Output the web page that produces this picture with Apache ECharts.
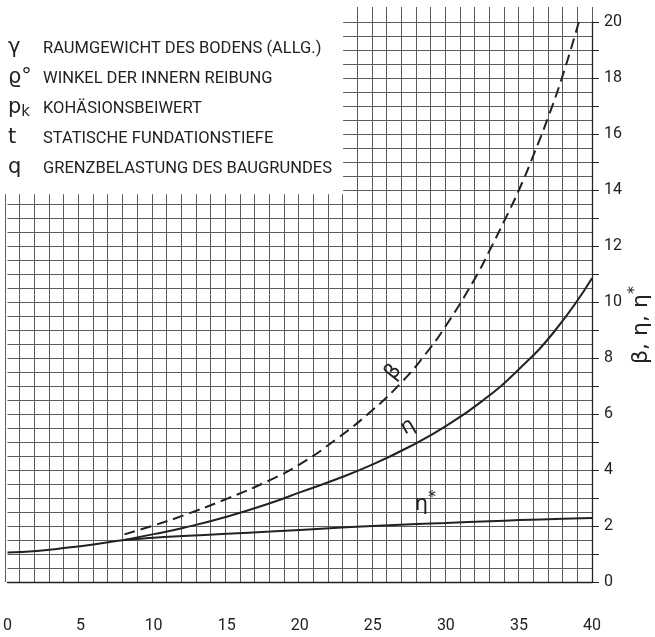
<!DOCTYPE html>
<html><head><meta charset="utf-8">
<script src="https://cdn.jsdelivr.net/npm/echarts@6/dist/echarts.min.js"></script>
<style>html,body{margin:0;padding:0;background:#fff}#c{width:655px;height:637px}</style>
</head><body><div id="c"></div><script>
// ---- data ----
const xTickLabels = ['0','5','10','15','20','25','30','35','40'];
const yTickLabels = ['0','2','4','6','8','10','12','14','16','18','20'];

const etaStarX = [0, 2, 4, 6, 8, 10, 12, 15, 18, 20, 23.5, 25, 28, 30, 33, 35, 38, 40];
const etaStarY = [1.05, 1.11, 1.22, 1.35, 1.5, 1.58, 1.64, 1.72, 1.8, 1.86, 1.96, 2.0, 2.07, 2.11, 2.17, 2.21, 2.26, 2.29];

const etaX = [8, 10, 12, 15, 18, 20, 22.5, 25, 27.5, 30, 32.5, 35, 37.5, 40];
const etaY = [1.5, 1.71, 1.93, 2.33, 2.82, 3.2, 3.67, 4.2, 4.83, 5.57, 6.47, 7.6, 9.0, 10.85];

const betaX = [8, 10, 12, 15, 18, 20, 22.5, 25, 27, 28.5, 30, 32, 33, 34, 35, 36, 37, 38, 39.1];
const betaY = [1.7, 2.02, 2.37, 2.97, 3.65, 4.2, 5.1, 6.15, 7.15, 8.07, 9.15, 10.85, 11.85, 12.9, 14.0, 15.25, 16.6, 18.1, 20.0];

const legendSymbols = ['γ', 'ϱ°', 'p_k', 't', 'q'];
const legendTexts = [
  'RAUMGEWICHT DES BODENS (ALLG.)',
  'WINKEL DER INNERN REIBUNG',
  'KOHÄSIONSBEIWERT',
  'STATISCHE FUNDATIONSTIEFE',
  'GRENZBELASTUNG DES BAUGRUNDES'
];
const curveNames = ['β', 'η', 'η*'];

// ---- layout / style ----
const INK = '#222';
const GRIDC = '#5c5c5c';
const FONT = 'Roboto, "DejaVu Sans", sans-serif';
const SYMFONT = '"DejaVu Sans", sans-serif';
const labelAnchor = { 'β': [26.4, 7.5, 52], 'η': [27.4, 5.55, 30], 'η*': [28.6, 2.78, 0] };

function pts(xs, ys) { return xs.map((x, i) => [x, ys[i]]); }

function curveLabel(name) {
  const a = labelAnchor[name];
  const star = name.endsWith('*');
  return {
    symbol: 'circle', symbolSize: 0,
    data: [{ coord: [a[0], a[1]] }],
    label: {
      show: true, position: 'inside', rotate: a[2],
      formatter: star ? '{a|η}{s|*}' : name,
      color: INK, fontSize: 21, fontFamily: SYMFONT,
      rich: { a: { fontSize: 21, color: INK, fontFamily: SYMFONT },
              s: { fontSize: 16, color: INK, padding: [0, 0, 12, 0], fontFamily: SYMFONT } }
    }
  };
}

const graphics = [];
const rowY = [50, 80, 110, 140, 170];
legendSymbols.forEach((s, i) => {
  let txt = s, rich = undefined;
  if (s === 'p_k') { txt = '{p|p}{k|k}'; rich = { p: { fontSize: 21, fill: INK, fontFamily: SYMFONT }, k: { fontSize: 15, fill: INK, padding: [10, 0, 0, 0], fontFamily: SYMFONT } }; }
  graphics.push({
    type: 'text', left: 8, top: rowY[i] - 13, z: 100,
    style: { text: txt, rich: rich, fill: INK, font: '21px ' + SYMFONT, verticalAlign: 'top' }
  });
  graphics.push({
    type: 'text', left: 43, top: rowY[i] - 10, z: 100,
    style: { text: legendTexts[i], fill: INK, font: '16.5px ' + FONT }
  });
});
graphics.push({
  type: 'text', z: 100, x: 641, y: 325, rotation: Math.PI / 2,
  style: { text: '{a|β, η, η}{s|*}', align: 'center', verticalAlign: 'middle',
    rich: { a: { fontSize: 22, fill: INK, fontFamily: SYMFONT },
            s: { fontSize: 16, fill: INK, padding: [0, 0, 12, 0], fontFamily: SYMFONT } } }
});

const chart = echarts.init(document.getElementById('c'), null, { renderer: 'canvas' });
chart.setOption({
  backgroundColor: '#fff',
  animation: false,
  grid: [
    { left: 5, right: 63, top: 22, bottom: 55 },
    { left: 5, right: 63, top: 7, bottom: 55 }
  ],
  xAxis: [
    { type: 'value', gridIndex: 0, min: 0, max: 40, interval: 5,
      axisLine: { show: true, onZero: false, lineStyle: { color: INK, width: 1.3 } },
      axisTick: { show: false },
      splitLine: { show: false }, minorSplitLine: { show: false },
      axisLabel: { margin: 36, color: INK, fontSize: 16, fontFamily: FONT,
        formatter: v => xTickLabels[Math.round(v / 5)] } },
    { type: 'value', gridIndex: 1, min: 0, max: 40, interval: 1,
      axisLine: { show: false }, axisTick: { show: false }, axisLabel: { show: false },
      splitLine: { show: true, lineStyle: { color: GRIDC, width: 1 } } }
  ],
  yAxis: [
    { type: 'value', gridIndex: 0, position: 'right', min: 0, max: 20, interval: 1,
      axisLine: { show: true, onZero: false, lineStyle: { color: INK, width: 1.3 } },
      axisTick: { show: true, length: 7, lineStyle: { color: INK } },
      splitLine: { show: true, lineStyle: { color: GRIDC, width: 1 } },
      minorTick: { show: false, splitNumber: 2 },
      minorSplitLine: { show: true, lineStyle: { color: GRIDC, width: 1 } },
      axisLabel: { margin: 12, color: INK, fontSize: 16, fontFamily: FONT,
        formatter: v => (Math.round(v) % 2 === 0 ? yTickLabels[Math.round(v) / 2] : '') } },
    { type: 'value', gridIndex: 1, min: 0, max: 20.54, show: false }
  ],
  graphic: graphics,
  series: [
    { type: 'line', xAxisIndex: 1, yAxisIndex: 1, data: [], silent: true,
      markArea: { silent: true, itemStyle: { color: '#fff', opacity: 1 },
        data: [[{ coord: [-0.4, 13.85] }, { coord: [23.04, 20.54] }]] } },
    { name: curveNames[2], type: 'line', data: pts(etaStarX, etaStarY), smooth: 0.5,
      symbol: 'none', lineStyle: { color: INK, width: 2 }, markPoint: curveLabel('η*') },
    { name: curveNames[1], type: 'line', data: pts(etaX, etaY), smooth: 0.5,
      symbol: 'none', lineStyle: { color: INK, width: 2 }, markPoint: curveLabel('η') },
    { name: curveNames[0], type: 'line', data: pts(betaX, betaY), smooth: 0.5,
      symbol: 'none', lineStyle: { color: INK, width: 2, type: [11, 6] }, markPoint: curveLabel('β') }
  ]
});
</script></body></html>
